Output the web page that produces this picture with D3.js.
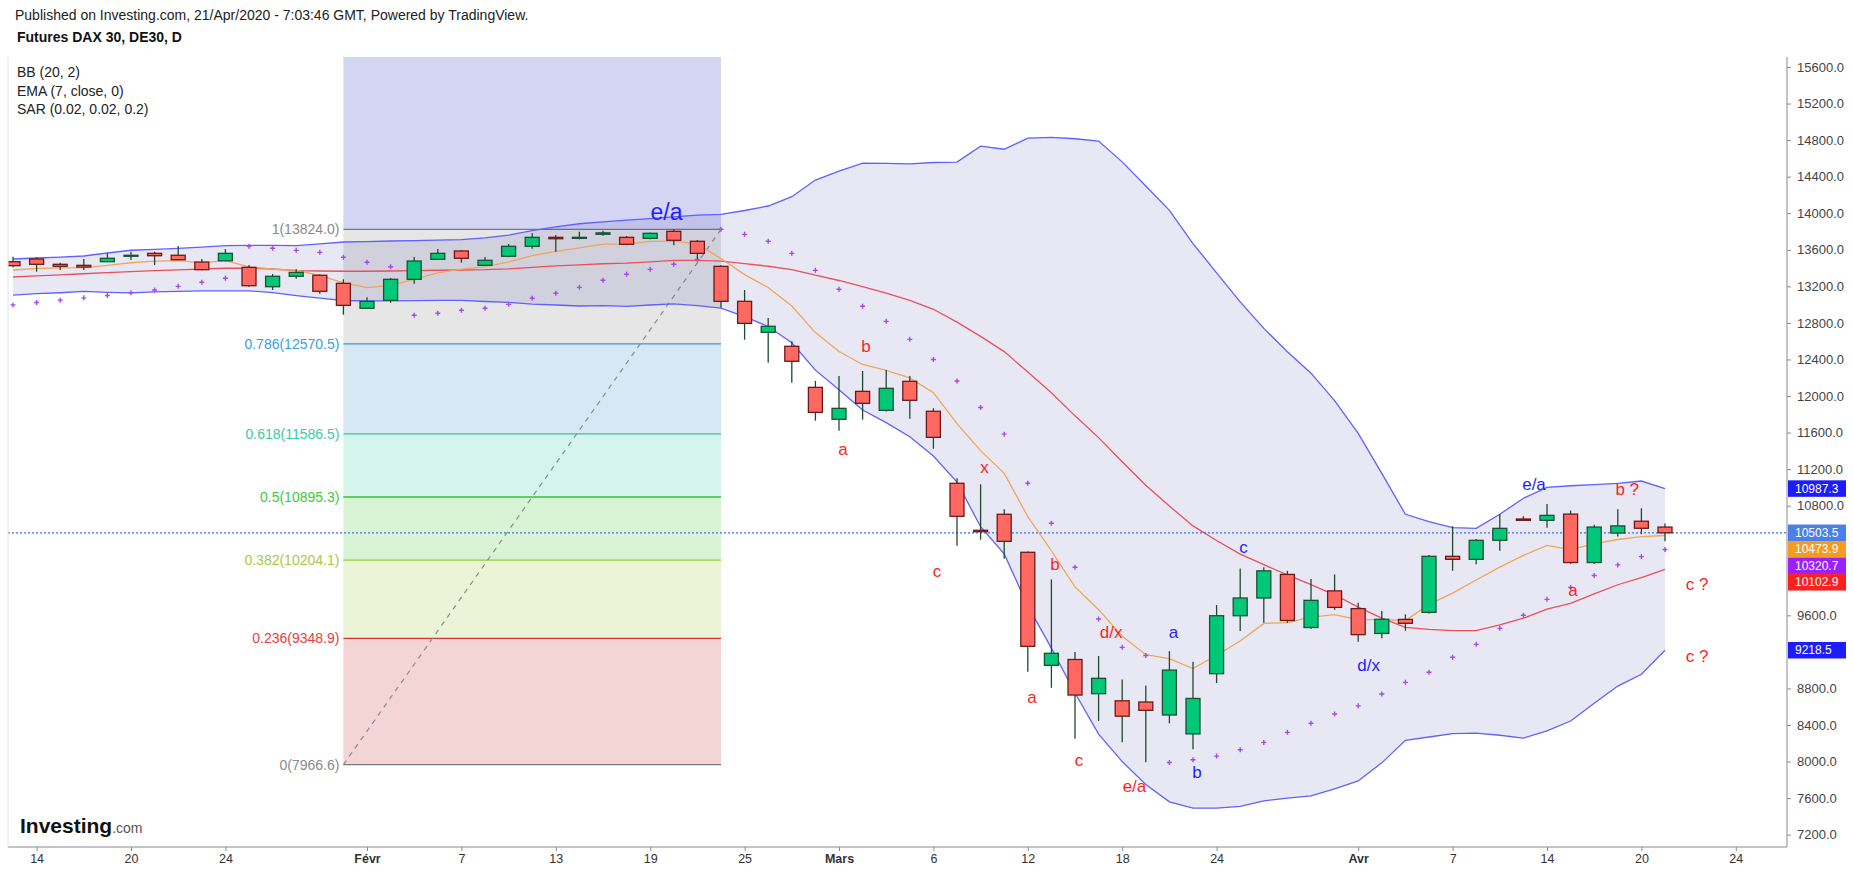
<!DOCTYPE html>
<html>
<head>
<meta charset="utf-8">
<script src="https://cdn.jsdelivr.net/npm/d3@7"></script>
<style>
  body { margin: 0; background: #fff; }
  svg { display: block; font-family: "Liberation Sans", Arial, sans-serif; }
</style>
</head>
<body>
<div id="chart"></div>
<script>
// trading days 2020 (MM-DD), plus the empty days to the right of the last bar
const dates = [
  "01-13","01-14","01-15","01-16","01-17","01-20","01-21","01-22","01-23","01-24",
  "01-27","01-28","01-29","01-30","01-31","02-03","02-04","02-05","02-06","02-07",
  "02-10","02-11","02-12","02-13","02-14","02-17","02-18","02-19","02-20","02-21",
  "02-24","02-25","02-26","02-27","02-28","03-02","03-03","03-04","03-05","03-06",
  "03-09","03-10","03-11","03-12","03-13","03-16","03-17","03-18","03-19","03-20",
  "03-23","03-24","03-25","03-26","03-27","03-30","03-31","04-01","04-02","04-03",
  "04-06","04-07","04-08","04-09","04-13","04-14","04-15","04-16","04-17","04-20",
  "04-21"
];
const futureDates = ["04-22","04-23","04-24"];

const open = [
  13470,13499,13441,13430,13470,13536,13561,13540,13466,13480,
  13408,13196,13310,13321,13233,12960,13047,13277,13496,13587,
  13430,13529,13638,13736,13725,13770,13736,13725,13802,13693,
  13419,13036,12697,12544,12095,11745,12051,11843,12161,11833,
  11045,10531,10706,10290,9053,9117,8743,8665,8652,8510,
  8303,8962,9596,9790,10048,9467,9868,9674,9402,9556,
  9633,10246,10213,10421,10654,10640,10708,10178,10501,10630,
  10566
];
const high = [
  13524,13518,13459,13499,13561,13579,13579,13641,13499,13608,
  13433,13335,13386,13332,13277,13080,13291,13521,13608,13597,
  13521,13663,13780,13762,13798,13809,13751,13790,13824,13707,
  13430,13160,12853,12598,12164,12219,12274,12284,12220,11866,
  11099,11034,10760,10300,9994,9200,9156,8898,8833,9208,
  9092,9713,10113,10126,10087,9997,10048,9738,9648,9611,
  10260,10574,10435,10706,10684,10818,10747,10592,10760,10773,
  10605
];
const low = [
  13408,13360,13379,13379,13465,13488,13433,13488,13375,13475,
  13196,13160,13284,13119,12889,12955,13020,13229,13490,13459,
  13425,13520,13612,13579,13714,13754,13650,13715,13649,13502,
  12966,12616,12364,12145,11730,11620,11741,11830,11751,11423,
  10362,10428,10220,8983,8807,8251,8445,8212,7993,8419,
  8135,8859,9428,9518,9518,9454,9660,9311,9350,9432,
  9620,10088,10158,10307,10640,10559,10165,10165,10462,10488,
  10411
];
const close = [
  13426,13441,13419,13411,13507,13540,13535,13491,13382,13561,
  13207,13310,13353,13146,12992,13036,13277,13477,13561,13507,
  13485,13638,13736,13721,13736,13785,13660,13780,13704,13561,
  13036,12795,12763,12380,11821,11865,11920,12084,11953,11548,
  10684,10515,10410,9261,9185,8728,8911,8497,8561,9001,
  8691,9596,9790,10087,9544,9764,9687,9389,9557,9513,
  10246,10213,10421,10552,10640,10694,10178,10566,10579,10553,
  10503.5
];

// Bollinger Bands (20, 2)
const bbUpper = [
  13499,13510,13520,13532,13565,13595,13605,13616,13630,13645,
  13649,13648,13645,13665,13685,13690,13696,13700,13706,13712,
  13730,13760,13810,13850,13885,13905,13925,13940,13960,13980,
  13988,14030,14079,14181,14363,14460,14547,14545,14540,14555,
  14560,14734,14700,14822,14830,14815,14790,14562,14298,14032,
  13668,13348,13030,12740,12484,12250,11949,11592,11154,10706,
  10625,10559,10552,10706,10881,11001,11018,11031,11044,11070,
  10987.3
];
const bbMiddle = [
  13302,13315,13325,13338,13350,13362,13372,13380,13390,13398,
  13400,13390,13372,13368,13365,13365,13368,13372,13376,13379,
  13382,13392,13408,13423,13435,13447,13453,13468,13484,13484,
  13475,13449,13420,13382,13323,13264,13197,13127,13047,12949,
  12809,12652,12486,12263,12036,11783,11545,11281,11024,10796,
  10579,10419,10270,10155,10042,9937,9825,9690,9570,9469,
  9447,9432,9432,9497,9569,9668,9731,9835,9935,10013,
  10102.9
];
const bbLower = [
  13105,13120,13130,13144,13135,13129,13139,13144,13150,13151,
  13151,13132,13099,13071,13045,13040,13040,13044,13046,13046,
  13034,13024,13006,12996,12985,12989,12981,12996,13008,12988,
  12962,12868,12761,12583,12283,12068,11847,11709,11554,11343,
  11058,10570,10272,9704,9242,8751,8300,8000,7750,7560,
  7490,7490,7510,7570,7600,7624,7701,7788,7986,8232,
  8269,8305,8312,8288,8257,8335,8444,8639,8826,8956,
  9218.5
];
// EMA (7, close)
const ema7 = [
  13379,13395,13401,13404,13430,13458,13477,13481,13456,13482,
  13413,13387,13378,13320,13238,13187,13210,13277,13348,13388,
  13412,13468,13535,13582,13620,13661,13661,13691,13694,13661,
  13505,13328,13187,12985,12694,12487,12345,12280,12198,12036,
  11698,11402,11154,10681,10307,9912,9662,9371,9169,9127,
  9018,9163,9320,9512,9520,9581,9608,9553,9554,9544,
  9720,9843,9987,10128,10256,10366,10319,10381,10430,10461,
  10473.9
];
// Parabolic SAR (0.02, 0.02, 0.2)
const sar = [
  12997,13023,13049,13074,13100,13130,13160,13200,13244,13288,
  13638,13616,13594,13572,13518,13463,13415,12883,12905,12938,
  12960,13003,13069,13124,13189,13266,13332,13386,13441,13495,
  13824,13769,13693,13561,13375,13168,12982,12817,12620,12400,
  12165,11875,11583,11045,10607,10126,9560,9250,9160,7990,
  8020,8060,8130,8210,8320,8420,8520,8610,8740,8867,
  8977,9141,9283,9458,9601,9775,9906,10036,10152,10243,
  10320.7
];

// Fibonacci retracement drawn from 31 Jan to 24 Feb
const fibStart = "01-31";
const fibEnd = "02-24";
const fibRatios = ["1", "0.786", "0.618", "0.5", "0.382", "0.236", "0"];
const fibPrices = [13824.0, 12570.5, 11586.5, 10895.3, 10204.1, 9348.9, 7966.6];
const fibLineColors = ["#7a7a7a", "#2f9bd6", "#35c29c", "#33c533", "#9cc83a", "#e03434", "#7a7a7a"];
const fibTextColors = ["#8a8a8a", "#3aa0d8", "#3ccaa3", "#3ccc3c", "#a6ca44", "#e64040", "#8a8a8a"];
const fibFills = ["#e6e6e6", "#d5e8f4", "#d5f4ec", "#d8f4d5", "#ebf4d6", "#f4d5d5"];
const fibAboveFill = "#d4d4f3";

// x axis labels
const tickDates = ["01-14","01-20","01-24","02-03","02-07","02-13","02-19","02-25","03-02",
  "03-06","03-12","03-18","03-24","04-01","04-07","04-14","04-20","04-24"];
const tickLabels = ["14","20","24","Févr","7","13","19","25","Mars",
  "6","12","18","24","Avr","7","14","20","24"];
const monthLabels = ["Févr", "Mars", "Avr"];

// wave annotations: bar position (fractional), price, text, colour
const noteBars =   [27.69, 36.14, 35.17, 41.17, 39.15, 44.15, 46.53, 43.18, 45.17, 47.52,
  49.17, 50.17, 52.14, 57.44, 64.45, 66.1, 68.4, 71.36, 71.36];
const notePrices = [14019, 12547, 11420, 11223, 10085, 10162, 9418, 8706, 8017, 7733,
  9418, 7886, 10342, 9057, 11032, 9877, 10982, 9943, 9155];
const noteTexts =  ["e/a", "b", "a", "x", "c", "b", "d/x", "a", "c", "e/a",
  "a", "b", "c", "d/x", "e/a", "a", "b ?", "c ?", "c ?"];
const noteColors = ["blue", "red", "red", "red", "red", "red", "red", "red", "red", "red",
  "blue", "blue", "blue", "blue", "blue", "red", "red", "red", "red"];

const lastPrice = 10503.5;

const width = 1853;
const height = 873;
const plot = { left: 8, right: 1787, top: 57, bottom: 847 };

const svg = d3.select("#chart").append("svg")
  .attr("width", width)
  .attr("height", height);

svg.append("rect").attr("width", width).attr("height", height).attr("fill", "#fff");

const allDates = dates.concat(futureDates);
const xi = d3.scaleLinear().domain([0, allDates.length - 1]).range([13, 1735.8]);
const x = d => xi(allDates.indexOf(d));
const y = d3.scaleLinear().domain([7200, 15600]).range([834.7, 67.0]);

svg.append("clipPath").attr("id", "plotClip")
  .append("rect")
  .attr("x", plot.left).attr("y", plot.top)
  .attr("width", plot.right - plot.left).attr("height", plot.bottom - plot.top);

const g = svg.append("g").attr("clip-path", "url(#plotClip)");

// ---- Fibonacci box ----
const fx0 = x(fibStart), fx1 = x(fibEnd);
g.append("rect")
  .attr("x", fx0).attr("width", fx1 - fx0)
  .attr("y", plot.top).attr("height", y(fibPrices[0]) - plot.top)
  .attr("fill", fibAboveFill);
fibFills.forEach((c, k) => {
  g.append("rect")
    .attr("x", fx0).attr("width", fx1 - fx0)
    .attr("y", y(fibPrices[k])).attr("height", y(fibPrices[k + 1]) - y(fibPrices[k]))
    .attr("fill", c);
});
fibPrices.forEach((p, k) => {
  g.append("line")
    .attr("x1", fx0).attr("x2", fx1)
    .attr("y1", y(p)).attr("y2", y(p))
    .attr("stroke", fibLineColors[k]).attr("stroke-width", 1.3);
  g.append("text")
    .attr("x", fx0 - 4).attr("y", y(p))
    .attr("dy", "0.35em")
    .attr("text-anchor", "end")
    .attr("font-size", 14)
    .attr("fill", fibTextColors[k])
    .text(`${fibRatios[k]}(${p.toFixed(1)})`);
});
g.append("line")
  .attr("x1", fx0).attr("y1", y(fibPrices[6]))
  .attr("x2", fx1).attr("y2", y(fibPrices[0]))
  .attr("stroke", "#8c8c8c").attr("stroke-width", 1.2)
  .attr("stroke-dasharray", "5,5");

// ---- Bollinger Bands ----
const idx = d3.range(dates.length);
const area = d3.area()
  .x(i => xi(i))
  .y0(i => y(bbLower[i]))
  .y1(i => y(bbUpper[i]));
g.append("path").datum(idx)
  .attr("d", area)
  .attr("fill", "rgba(33,33,150,0.1)");

const lineOf = arr => d3.line().x(i => xi(i)).y(i => y(arr[i]));
[[bbUpper, "#6060ff", 1.3], [bbLower, "#6060ff", 1.3], [bbMiddle, "#e8505c", 1.3], [ema7, "#f0a657", 1.3]]
  .forEach(([arr, col, w]) => {
    g.append("path").datum(idx)
      .attr("d", lineOf(arr))
      .attr("fill", "none")
      .attr("stroke", col)
      .attr("stroke-width", w);
  });

// current price dotted line
g.append("line")
  .attr("x1", plot.left).attr("x2", plot.right)
  .attr("y1", y(lastPrice)).attr("y2", y(lastPrice))
  .attr("stroke", "#3d6fe6").attr("stroke-width", 1.2)
  .attr("stroke-dasharray", "2,2");

// ---- SAR ----
g.append("g").selectAll("path")
  .data(idx)
  .enter()
  .append("path")
  .attr("d", i => `M${xi(i) - 2.5},${y(sar[i])}h5M${xi(i)},${y(sar[i]) - 2.5}v5`)
  .attr("stroke", "#a24cf0")
  .attr("stroke-width", 1.4);

// ---- candles ----
const bodyW = 14;
const candles = g.append("g").selectAll("g")
  .data(idx)
  .enter()
  .append("g");
candles.append("line")
  .attr("x1", i => xi(i)).attr("x2", i => xi(i))
  .attr("y1", i => y(high[i])).attr("y2", i => y(low[i]))
  .attr("stroke", "#1f4a2f").attr("stroke-width", 1.3);
candles.append("rect")
  .attr("x", i => xi(i) - bodyW / 2)
  .attr("width", bodyW)
  .attr("y", i => y(Math.max(open[i], close[i])))
  .attr("height", i => Math.max(1, Math.abs(y(open[i]) - y(close[i]))))
  .attr("fill", i => close[i] >= open[i] ? "#00c878" : "#ff6961")
  .attr("stroke", i => close[i] >= open[i] ? "#1b5133" : "#6b1a1a")
  .attr("stroke-width", 1.3);

// ---- annotations ----
const noteFill = { red: "#ff1f1f", blue: "#1f1fff" };
noteTexts.forEach((t, k) => {
  g.append("text")
    .attr("x", xi(noteBars[k]))
    .attr("y", y(notePrices[k]))
    .attr("dy", "0.35em")
    .attr("text-anchor", "middle")
    .attr("font-size", k === 0 ? 23 : 17)
    .attr("fill", noteFill[noteColors[k]])
    .text(t);
});

// ---- frame ----
svg.append("line")
  .attr("x1", plot.left).attr("x2", plot.right)
  .attr("y1", plot.bottom).attr("y2", plot.bottom)
  .attr("stroke", "#8a8a8a");
svg.append("line")
  .attr("x1", plot.left).attr("x2", plot.left)
  .attr("y1", plot.top).attr("y2", plot.bottom)
  .attr("stroke", "#e2e2e2");

// ---- price tags on the right scale (stacked so they do not collide) ----
const tagValues = [bbUpper[70], lastPrice, ema7[70], sar[70], bbMiddle[70], bbLower[70]];
const tagColors = ["#1c1cff", "#4a80e8", "#f59b1f", "#9b1fff", "#ff1f1f", "#1c1cff"];
const tagH = 16.5;
let prevY = -Infinity;
const tagYs = tagValues.map(v => {
  const ty = Math.max(y(v), prevY + tagH);
  prevY = ty;
  return ty;
});

// ---- y axis ----
const yTicks = d3.range(7200, 15601, 400)
  .filter(v => !tagYs.some(ty => Math.abs(y(v) - ty) < tagH / 2 + 5));
const yAxis = svg.append("g")
  .attr("transform", `translate(${plot.right},0)`)
  .call(d3.axisRight(y)
    .tickValues(yTicks)
    .tickFormat(d3.format(".1f"))
    .tickSize(4)
    .tickPadding(6)
    .tickSizeOuter(0));
yAxis.select(".domain").attr("stroke", "#8a8a8a").attr("d", `M0,${plot.top}V${plot.bottom}`);
yAxis.selectAll(".tick line").attr("stroke", "#8a8a8a");
yAxis.selectAll("text")
  .attr("font-size", 13)
  .attr("font-family", "Liberation Sans, Arial, sans-serif")
  .attr("fill", "#444");

tagValues.forEach((v, k) => {
  svg.append("rect")
    .attr("x", plot.right + 1).attr("y", tagYs[k] - tagH / 2)
    .attr("width", 58).attr("height", tagH)
    .attr("fill", tagColors[k]);
  svg.append("text")
    .attr("x", plot.right + 8).attr("y", tagYs[k])
    .attr("dy", "0.35em")
    .attr("font-size", 12)
    .attr("fill", "#fff")
    .text(v.toFixed(1));
});

// ---- x axis ----
const xAxis = svg.append("g")
  .attr("transform", `translate(0,${plot.bottom})`)
  .call(d3.axisBottom(xi)
    .tickValues(tickDates.map(d => allDates.indexOf(d)))
    .tickFormat((d, k) => tickLabels[k])
    .tickSize(4));
xAxis.select(".domain").remove();
xAxis.selectAll(".tick line").attr("stroke", "#8a8a8a");
xAxis.selectAll("text")
  .attr("font-size", 12.5)
  .attr("font-family", "Liberation Sans, Arial, sans-serif")
  .attr("fill", "#333")
  .attr("font-weight", (d, k) => monthLabels.includes(tickLabels[k]) ? "bold" : "normal");

// ---- header, legend, logo ----
svg.append("text").attr("x", 15).attr("y", 20).attr("font-size", 14).attr("fill", "#222")
  .text("Published on Investing.com, 21/Apr/2020 - 7:03:46 GMT, Powered by TradingView.");
svg.append("text").attr("x", 17).attr("y", 42).attr("font-size", 14).attr("font-weight", "bold").attr("fill", "#111")
  .text("Futures DAX 30, DE30, D");
["BB (20, 2)", "EMA (7, close, 0)", "SAR (0.02, 0.02, 0.2)"].forEach((t, k) => {
  svg.append("text").attr("x", 17).attr("y", 77 + k * 18.5).attr("font-size", 14).attr("fill", "#222").text(t);
});
const logo = svg.append("text").attr("x", 20).attr("y", 833);
logo.append("tspan").attr("font-size", 21).attr("font-weight", "bold").attr("fill", "#111").text("Investing");
logo.append("tspan").attr("font-size", 14).attr("fill", "#555").text(".com");
</script>
</body>
</html>
